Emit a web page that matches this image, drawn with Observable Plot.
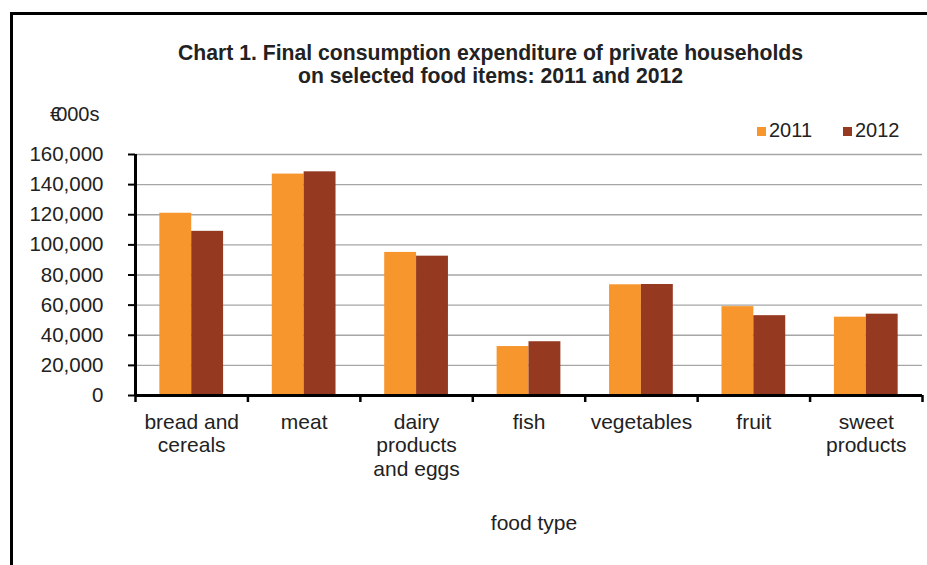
<!DOCTYPE html>
<html><head><meta charset="utf-8">
<script src="https://cdn.jsdelivr.net/npm/d3@7"></script>
<script src="https://cdn.jsdelivr.net/npm/@observablehq/plot@0.6"></script>
<style>
body{margin:0;background:#fff;}
#page{position:relative;width:927px;height:565px;overflow:hidden;font-family:"Liberation Sans",Arial,sans-serif;color:#222;}
#frame{position:absolute;left:10px;top:12px;width:960px;height:600px;border-left:3px solid #000;border-top:3px solid #000;}
#title{position:absolute;left:0;width:981px;top:41px;text-align:center;font-weight:bold;font-size:21.2px;line-height:23px;}
#unit{position:absolute;left:50px;top:102px;font-size:20px;line-height:24px;}
#unit .eu{letter-spacing:-5px;}
.leg{position:absolute;top:118px;font-size:20px;line-height:24px;white-space:nowrap;}
.sw{display:inline-block;width:9px;height:9px;margin-right:3px;vertical-align:1px;}
#chart{position:absolute;left:0;top:140px;}
</style>
</head><body>
<div id="page">
  <div id="frame"></div>
  <div id="title">Chart 1. Final consumption expenditure of private households<br>on selected food items: 2011 and 2012</div>
  <div id="unit"><span class="eu">€</span>000s</div>
  <div id="legendBox"></div>
  <div id="chart"></div>
</div>
<script>
const categories = ["bread and cereals","meat","dairy products and eggs","fish","vegetables","fruit","sweet products"];
const categoryLabels = ["bread and\ncereals","meat","dairy\nproducts\nand eggs","fish","vegetables","fruit","sweet\nproducts"];
const years = ["2011","2012"];
const values2011 = [121000,147000,95000,32500,73500,59000,52000];
const values2012 = [109000,148500,92500,35700,73700,53000,54000];
const yTicks = [0,20000,40000,60000,80000,100000,120000,140000,160000];
const colors = ["#F7962D","#953920"];
const axisTitle = "food type";

// layout fractions of each category step (Excel gap width)
const GAP = 0.2165, BAR = 0.2835;

const data = [];
categories.forEach((c, ci) => {
  data.push({cat: c, ci, year: years[0], yi: 0, value: values2011[ci]});
  data.push({cat: c, ci, year: years[1], yi: 1, value: values2012[ci]});
});

// legend
const lb = document.getElementById("legendBox");
years.forEach((y, i) => {
  const d = document.createElement("div");
  d.className = "leg";
  d.style.left = (757 + i * 86) + "px";
  d.innerHTML = `<span class="sw" style="background:${colors[i]}"></span>${y}`;
  lb.appendChild(d);
});

const n = categories.length;
const chart = Plot.plot({
  width: 927,
  height: 425,
  marginLeft: 135,
  marginRight: 5,
  marginTop: 14,
  marginBottom: 170,
  style: {fontFamily: "'Liberation Sans', Arial, sans-serif", fontSize: "20.5px", color: "#222", background: "transparent", overflow: "visible"},
  x: {domain: [0, n], axis: null},
  y: {domain: [0, 160000], axis: null},
  color: {domain: years, range: colors},
  marks: [
    Plot.gridY(yTicks.slice(1), {stroke: "#a6a6a6", strokeOpacity: 1, strokeWidth: 1.3}),
    Plot.rectY(data, {
      x1: d => d.ci + GAP + d.yi * BAR,
      x2: d => d.ci + GAP + (d.yi + 1) * BAR,
      y: "value",
      fill: "year"
    }),
    Plot.axisY({ticks: yTicks, tickFormat: d3.format(","), tickSize: 7, tickPadding: 25, strokeWidth: 2, stroke: "#000", fontSize: "20.5px", label: null}),
    Plot.axisX({ticks: d3.range(0, n + 1), tickSize: 7, tickFormat: () => "", strokeWidth: 2.5, stroke: "#000", label: null}),
    Plot.ruleX([0], {stroke: "#000", strokeWidth: 3}),
    Plot.ruleY([0], {stroke: "#000", strokeWidth: 3}),
    Plot.text(categoryLabels, {x: (d, i) => i + 0.5, y: () => 0, lineAnchor: "top", dy: 16, lineHeight: 1.14, fontSize: 21, fill: "#222"}),
    Plot.text([axisTitle], {x: () => n / 2, y: () => 0, lineAnchor: "middle", dy: 128, dx: 5, fontSize: 21, fill: "#222"})
  ]
});
document.getElementById("chart").appendChild(chart);
</script>
</body></html>
